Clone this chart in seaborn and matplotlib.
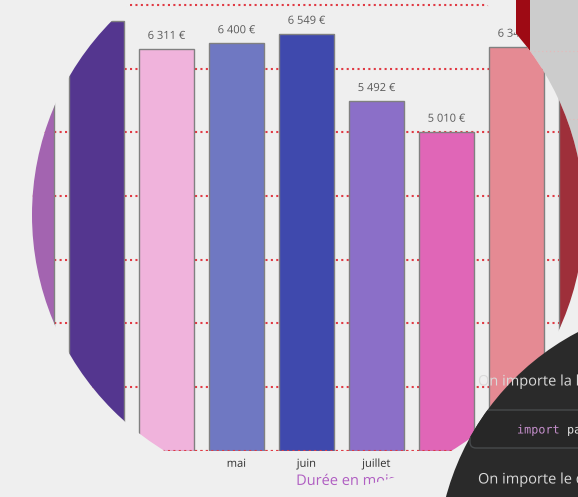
import matplotlib
matplotlib.use("Agg")
import matplotlib.pyplot as plt
import matplotlib.patheffects as pe
import seaborn as sns
from matplotlib.patches import Circle, Rectangle, FancyBboxPatch

# ---- data ----
months = ["février", "mars", "avril", "mai", "juin", "juillet", "août", "septembre", "octobre"]
values = [6180, 6750, 6311, 6400, 6549, 5492, 5010, 6345, 6200]
colors = ["#a364b0", "#54368f", "#f0b3dc", "#6f78c2", "#3f49ad",
          "#8b6fc8", "#e066b7", "#e58a93", "#9e2f3a"]
yticks = [0, 1000, 2000, 3000, 4000, 5000, 6000, 7000]
xlabel = "Durée en mois"
line1 = "On importe la librairie pandas :"
code_kw = "import"
code_rest = "pandas as pd"
line2 = "On importe le dataset :"

sns.set_theme(style="white")
plt.rcParams['font.family'] = ['Open Sans', 'DejaVu Sans']

W, H = 578, 497
BG = "#efefef"
fig = plt.figure(figsize=(W / 100, H / 100), dpi=100, facecolor=BG)
PE = [pe.Normal()]  # draw text as paths so that clip paths apply

# ---- background layer (pixel coordinates) ----
ax_bg = fig.add_axes([0, 0, 1, 1], zorder=0)
ax_bg.set_xlim(0, W)
ax_bg.set_ylim(H, 0)
ax_bg.axis('off')
ax_bg.add_patch(Rectangle((516, 0), 14, 220, color="#9e0a14", lw=0))
ax_bg.add_patch(Rectangle((530, 0), 48, 220, color="#cccccc", lw=0))
for yy in (51, 119):
    ax_bg.plot([530, 578], [yy, yy], color="#e6b9b9", ls=(0, (1, 2.5)), lw=0.8)
circ = Circle((308, 215), 276, color=BG, lw=0, zorder=5)
ax_bg.add_patch(circ)

# ---- bar chart ----
ax = fig.add_axes([0, 46.5 / H, 1, 450.5 / H], zorder=1)
ax.patch.set_alpha(0)
sns.barplot(x=months, y=values, hue=months, palette=colors, legend=False,
            width=0.786, edgecolor="#808080", linewidth=1, saturation=1, ax=ax)
ax.set_yticks(yticks)
ax.set_yticklabels([])
ax.set_xticks(range(len(months)))
ax.set_xticklabels(months)
ax.set_xlim(-26.5 / 70, (W - 26.5) / 70)
ax.set_ylim(0, 7078)
ax.tick_params(axis='both', length=0)
ax.tick_params(axis='x', pad=6, labelsize=8, labelcolor="#2e2e2e")
for s in ax.spines.values():
    s.set_visible(False)
grid_style = dict(color="#e03a44", linestyle=(0, (1, 1.6)), linewidth=1.5)
ax.set_axisbelow(True)
ax.yaxis.grid(True, **grid_style)
ax.xaxis.grid(False)
base = ax.axhline(0, zorder=4, **grid_style)
base.set_clip_path(circ)
ax.set_ylabel("")
ax.set_xlabel(xlabel, color="#b05ec2", fontsize=10.5)
ax.xaxis.set_label_coords(346 / W, -0.052)

for p in ax.patches:
    p.set_clip_path(circ)
for line in ax.get_ygridlines():
    line.set_clip_path(circ)
for lab in ax.get_xticklabels():
    lab.set_clip_path(circ)
    lab.set_path_effects(PE)
ax.xaxis.label.set_clip_path(circ)
ax.xaxis.label.set_path_effects(PE)

fmt = lambda v: f"{v:,.0f}".replace(",", " ") + " €"
for c in ax.containers:
    labs = ax.bar_label(c, fmt=fmt, padding=5, fontsize=8, color="#5a5a5a")
    for t in labs:
        t.set_clip_path(circ)
        t.set_path_effects(PE)

# ---- foreground overlay (dark panel) ----
ax_fg = fig.add_axes([0, 0, 1, 1], zorder=2)
ax_fg.set_xlim(0, W)
ax_fg.set_ylim(H, 0)
ax_fg.axis('off')
dark = Circle((700, 565), 263, color="#2a2a2a", lw=0)
ax_fg.add_patch(dark)
box = FancyBboxPatch((470, 410), 200, 38, boxstyle="round,pad=0,rounding_size=6",
                     fc="#272727", ec="#474a4c", lw=1)
ax_fg.add_patch(box)
box.set_clip_path(dark)
t1 = ax_fg.text(478, 382, line1, color="#dadada", fontsize=10.5, va="center", ha="left")
t2 = ax_fg.text(517, 430, code_kw, color="#c58fcc", fontsize=8.5, va="center", ha="left",
                family="DejaVu Sans Mono")
t3 = ax_fg.text(567, 430, code_rest, color="#e0e0e0", fontsize=8.5, va="center", ha="left",
                family="DejaVu Sans Mono")
t4 = ax_fg.text(478, 480, line2, color="#dadada", fontsize=10.5, va="center", ha="left")
for t in (t1, t2, t3, t4):
    t.set_clip_path(dark)
    t.set_path_effects(PE)

fig.savefig("out.png", dpi=100, facecolor=BG)
